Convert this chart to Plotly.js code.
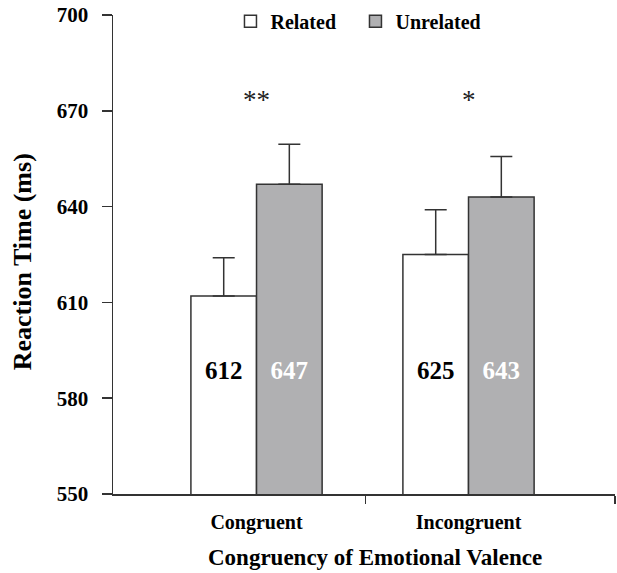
<!DOCTYPE html>
<html>
<head>
<meta charset="utf-8">
<script src="https://cdn.plot.ly/plotly-3.0.1.min.js"></script>
<style>html,body{margin:0;padding:0;background:#fff;}#chart{width:617px;height:573px;}</style>
</head>
<body>
<div id="chart"></div>
<script>
// Data
var categories = ['Congruent', 'Incongruent'];
var seriesNames = ['Related', 'Unrelated'];
var relatedRT = [612, 625];
var unrelatedRT = [647, 643];
var relatedErr = [12, 14];
var unrelatedErr = [12.5, 12.7];
var significance = ['**', '*'];
var yTicks = [550, 580, 610, 640, 670, 700];

// styling
var serif = 'Liberation Serif, Times New Roman, serif';
var ink = '#333333';
var xPos = categories.map(function (c, i) { return i; });
var barW = 0.3095;
var labelLevel = 588;
var starLevel = 673.5;

var traceRelated = {
  type: 'bar', name: seriesNames[0], x: xPos, y: relatedRT,
  marker: {color: '#ffffff', line: {color: ink, width: 1.5}},
  error_y: {type: 'data', symmetric: false, array: relatedErr, arrayminus: [0, 0],
            color: ink, thickness: 1.5, width: 11},
  hoverinfo: 'skip'
};
var traceUnrelated = {
  type: 'bar', name: seriesNames[1], x: xPos, y: unrelatedRT,
  marker: {color: '#b0b0b2', line: {color: ink, width: 1.5}},
  error_y: {type: 'data', symmetric: false, array: unrelatedErr, arrayminus: [0, 0],
            color: ink, thickness: 1.5, width: 11},
  hoverinfo: 'skip'
};
var labelsRelated = {
  type: 'scatter', mode: 'text', showlegend: false, hoverinfo: 'skip',
  x: xPos.map(function (v) { return v - barW / 2; }),
  y: relatedRT.map(function () { return labelLevel; }),
  text: relatedRT.map(String),
  textfont: {family: serif, size: 25, color: '#000', weight: 'bold'}
};
var labelsUnrelated = {
  type: 'scatter', mode: 'text', showlegend: false, hoverinfo: 'skip',
  x: xPos.map(function (v) { return v + barW / 2; }),
  y: unrelatedRT.map(function () { return labelLevel; }),
  text: unrelatedRT.map(String),
  textfont: {family: serif, size: 25, color: '#ffffff', weight: 'bold'}
};

var annotations = significance.map(function (s, i) {
  return {x: xPos[i], y: starLevel, xref: 'x', yref: 'y', text: s, showarrow: false,
          font: {family: serif, size: 27, color: '#222'}};
});
annotations.push({
  text: 'Congruency of Emotional Valence', xref: 'paper', yref: 'paper',
  x: 0.5226, y: -0.133, xanchor: 'center', yanchor: 'middle', showarrow: false,
  font: {family: serif, size: 23, color: '#000', weight: 'bold'}
});
annotations.push({
  text: 'Reaction Time (ms)', xref: 'paper', yref: 'paper',
  x: -0.18, y: 0.485, xanchor: 'center', yanchor: 'middle', showarrow: false,
  textangle: -90,
  font: {family: serif, size: 26, color: '#000', weight: 'bold'}
});

var layout = {
  width: 617, height: 573,
  margin: {l: 113, r: 2, t: 15, b: 79, autoexpand: false},
  paper_bgcolor: '#ffffff', plot_bgcolor: '#ffffff',
  barmode: 'group', bargap: 1 - 2 * barW, bargroupgap: 0,
  showlegend: true,
  legend: {orientation: 'h', x: 0.234, y: 0.987, xanchor: 'left', yanchor: 'middle',
           entrywidth: 80, entrywidthmode: 'pixels', traceorder: 'normal',
           bgcolor: 'rgba(0,0,0,0)',
           font: {family: serif, size: 20, color: '#000', weight: 'bold'}},
  xaxis: {
    type: 'linear', range: [-0.677, 1.691], tickvals: xPos, ticktext: categories,
    ticks: '', showgrid: false, zeroline: false,
    showline: true, linecolor: ink, linewidth: 1.5,
    ticklabelstandoff: 9,
    tickfont: {family: serif, size: 20, color: '#000', weight: 'bold'},
    minor: {tickvals: [0.513, 1.691], ticks: 'outside', ticklen: 8, tickcolor: ink, tickwidth: 1.5, showgrid: false}
  },
  yaxis: {
    range: [550, 700], tickvals: yTicks, ticks: 'outside', ticklen: 10,
    tickcolor: ink, tickwidth: 1.5, showgrid: false, zeroline: false,
    showline: true, linecolor: ink, linewidth: 1.5,
    ticklabelstandoff: 9,
    tickfont: {family: serif, size: 21, color: '#000', weight: 'bold'}
  },
  annotations: annotations
};

Plotly.newPlot('chart', [traceRelated, traceUnrelated, labelsRelated, labelsUnrelated], layout,
  {displayModeBar: false, staticPlot: true});
</script>
</body>
</html>
